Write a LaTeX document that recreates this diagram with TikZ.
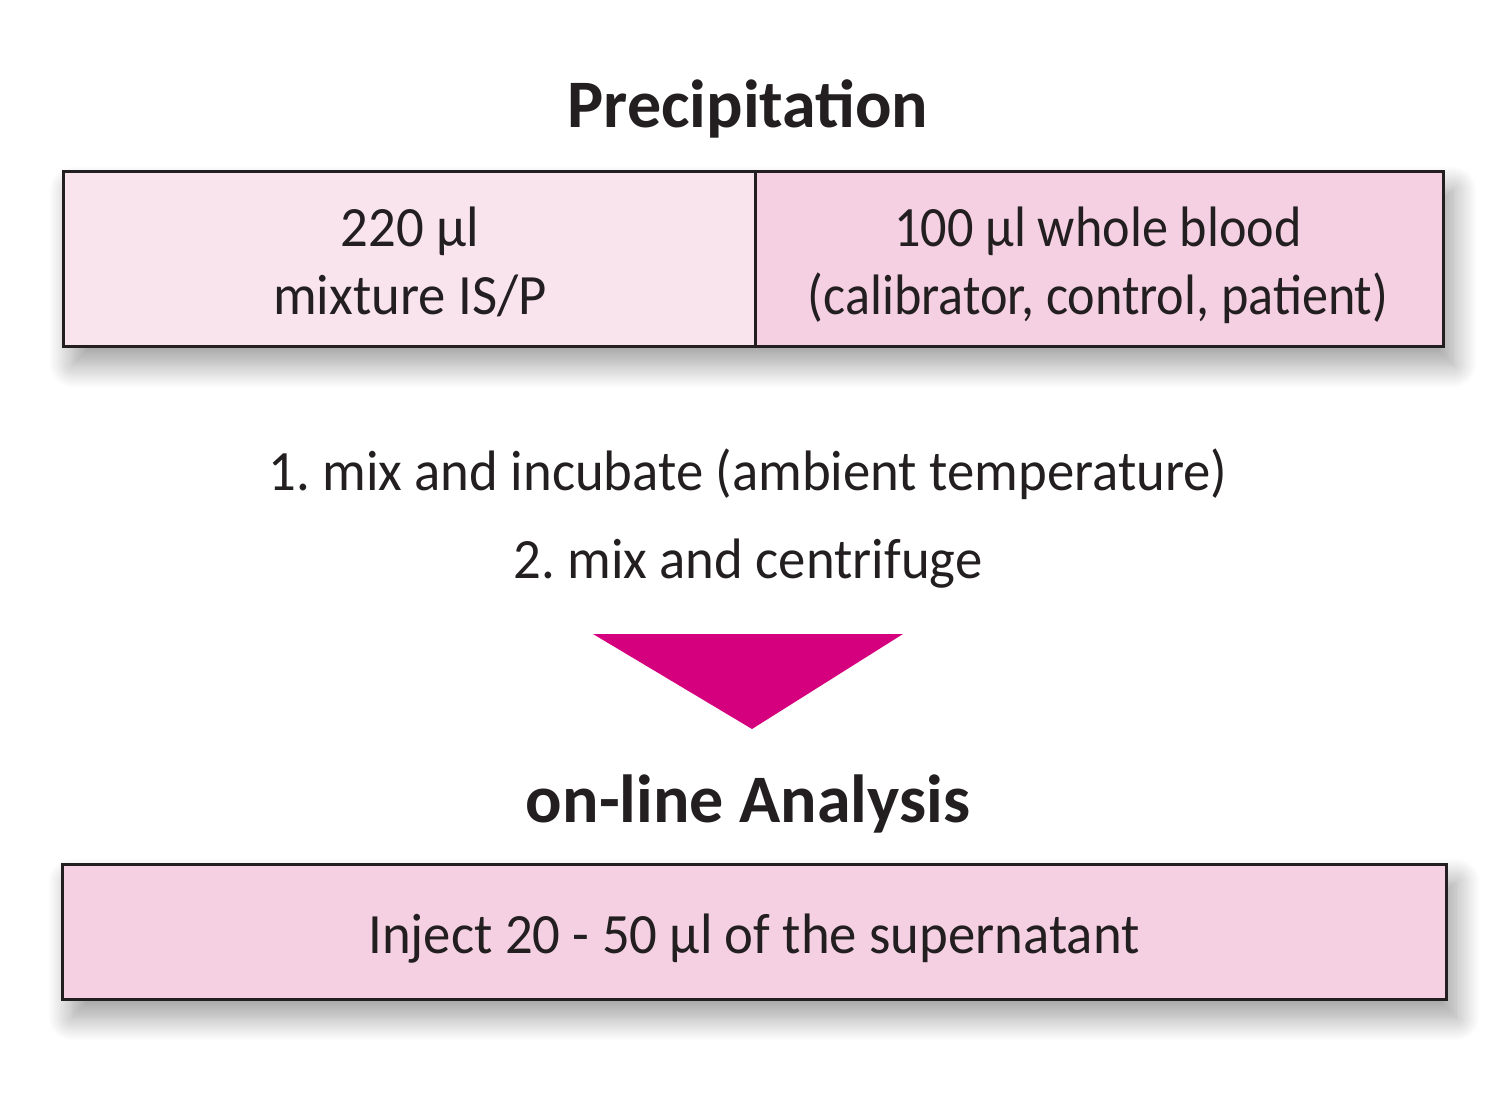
\documentclass[tikz,border=0pt]{standalone}
\usepackage{fontspec}
\setmainfont{Carlito}
\newfontfamily\narrowA[FakeStretch=0.96]{Carlito}
\newfontfamily\narrowB[FakeStretch=0.915]{Carlito}
\usetikzlibrary{shadows.blur}
\definecolor{pinklight}{HTML}{F9E4EE}
\definecolor{pinkmid}{HTML}{F4D0E2}
\definecolor{magentaarrow}{HTML}{D5007D}
\definecolor{textdark}{HTML}{231F20}
\frenchspacing
\begin{document}
\begin{tikzpicture}[x=1pt,y=-1pt,
  boxline/.style={draw=textdark,line width=3pt},
  shadowed/.style={blur shadow={shadow xshift=10pt,shadow yshift=-18pt,shadow blur radius=24pt,shadow blur steps=25,shadow opacity=40}},
  bodytext/.style={anchor=base,inner sep=0pt,text=textdark,font=\fontsize{57}{68}\narrowA},
  bodytextn/.style={anchor=base,inner sep=0pt,text=textdark,font=\fontsize{57}{68}\narrowB},
  headtext/.style={anchor=base,inner sep=0pt,text=textdark,font=\fontsize{68}{80}\selectfont\bfseries}]
\useasboundingbox (0,0) rectangle (1500,1094);
% top box
\path[shadowed,fill=pinkmid] (63,172) rectangle (1443,346);
\fill[pinklight] (63,172) rectangle (755,346);
\fill[pinkmid] (755,172) rectangle (1443,346);
\draw[boxline] (63,172) rectangle (1443,346);
\draw[boxline] (755,172) -- (755,346);
% bottom box
\path[shadowed,fill=pinkmid] (62,864) rectangle (1446,999);
\draw[boxline] (62,864) rectangle (1446,999);
% texts
\node[headtext] (title1) at (748,128) {Precipitation};
\node[bodytext] (l1) at (410,247) {220 µl};
\node[bodytext] (l2) at (410,314) {mixture IS/P};
\node[bodytextn] (r1) at (1098,247) {100 µl whole blood};
\node[bodytextn] (r2) at (1098,314) {(calibrator, control, patient)};
\node[bodytext] (s1) at (748,490) {1. mix and incubate (ambient temperature)};
\node[bodytext] (s2) at (748,578) {2. mix and centrifuge};
\fill[magentaarrow] (593,634) -- (903,634) -- (752,729) -- cycle;
\node[headtext] (title2) at (748,822) {on-line Analysis};
\node[bodytext] (inj) at (754,953) {Inject 20 - 50 µl of the supernatant};
\end{tikzpicture}
\end{document}
